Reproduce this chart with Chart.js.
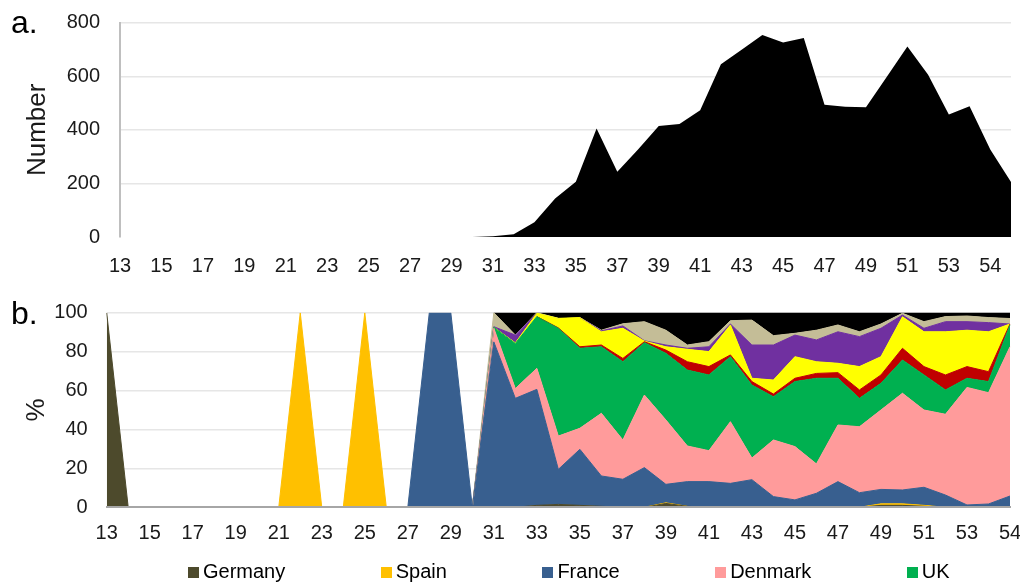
<!DOCTYPE html>
<html>
<head>
<meta charset="utf-8">
<title>Weekly counts and country shares</title>
<script src="https://cdn.jsdelivr.net/npm/chart.js@4.4.1/dist/chart.umd.min.js"></script>
<style>
  html, body { margin: 0; padding: 0; background: #fff; overflow: hidden; }
  #wrap { position: relative; width: 1020px; height: 582px; font-family: 'Liberation Sans', Arial, sans-serif; color: #000; }
  #panelA { position: absolute; left: 0; top: 0; }
  #panelB { position: absolute; left: 0; top: 290px; }
  .tag { position: absolute; left: 11px; font-size: 32px; line-height: 32px; }
  #legend { position: absolute; left: 188px; top: 561px; display: flex; font-size: 20px; line-height: 20px; white-space: nowrap; }
  #legend .item { display: inline-flex; align-items: baseline; margin-right: 95.5px; }
  #legend .box { display: inline-block; width: 11px; height: 11px; margin-right: 4px; }
</style>
</head>
<body>
<div id="wrap">
  <canvas id="panelA" width="1020" height="290"></canvas>
  <canvas id="panelB" width="1020" height="292"></canvas>
  <div class="tag" style="top:6px">a.</div>
  <div class="tag" style="top:297px">b.</div>
  <div id="legend"></div>
</div>
<script>
// Week categories (panel a runs one week further than panel b)
const weeksA = [13, 14, 15, 16, 17, 18, 19, 20, 21, 22, 23, 24, 25, 26, 27, 28, 29, 30,
                31, 32, 33, 34, 35, 36, 37, 38, 39, 40, 41, 42, 43, 44, 45, 46, 47, 48,
                49, 50, 51, 52, 53, 54, 55, 56];
const weeksB = [13, 14, 15, 16, 17, 18, 19, 20, 21, 22, 23, 24, 25, 26, 27, 28, 29, 30,
                31, 32, 33, 34, 35, 36, 37, 38, 39, 40, 41, 42, 43, 44, 45, 46, 47, 48,
                49, 50, 51, 52, 53, 54, 55];

// Labels shown under every second week
const xTickLabels = ['13', '15', '17', '19', '21', '23', '25', '27', '29', '31', '33',
                     '35', '37', '39', '41', '43', '45', '47', '49', '51', '53', '54'];

// Panel a: weekly number
const weeklyNumber = [0, 0, 0, 0, 0, 0, 0, 0, 0, 0, 0, 0, 0, 0, 0, 0, 0, 0,
                      3, 10, 55, 144, 206, 405, 244, 327, 414, 422, 473, 645, 699, 754,
                      726, 743, 494, 486, 484, 597, 711, 606, 457, 488, 327, 205];

// Panel b: share of each country per week (%)
const germany = [100, 0, 0, 0, 0, 0, 0, 0, 0, 0, 0, 0, 0, 0, 0, 0, 0, 0,
                 0, 0, 1, 1.5, 1, 0.5, 0, 0, 2, 0.5, 0, 0, 0, 0, 0, 0, 0, 0, 1, 1, 0.5, 0, 0, 0, 0];
const spain   = [0, 0, 0, 0, 0, 0, 0, 0, 0, 100, 0, 0, 100, 0, 0, 0, 0, 0,
                 0, 0, 0, 0, 0, 0, 0, 0, 0.3, 0, 0, 0, 0, 0, 0, 0, 0, 0, 0.8, 0.8, 0.5, 0, 0, 0, 0];
const france  = [0, 0, 0, 0, 0, 0, 0, 0, 0, 0, 0, 0, 0, 0, 0, 100, 100, 0,
                 85, 56, 59.6, 18, 28.8, 15.6, 14.4, 20.4, 9.5, 12.7, 13.2, 12.3, 14.2, 5.5,
                 3.8, 7.2, 13.2, 7.5, 7.4, 7.1, 9.3, 6.3, 1.2, 1.7, 5.8];
const denmark = [0, 0, 0, 0, 0, 0, 0, 0, 0, 0, 0, 0, 0, 0, 0, 0, 0, 0,
                 7, 5, 10.8, 17.1, 10.8, 32.2, 20.2, 37.3, 33.1, 18.3, 15.9, 31.7, 11.1, 29.1,
                 27.4, 15.1, 29.1, 33.9, 40.8, 49.7, 39.7, 41.5, 60.4, 57.2, 76.7];
const uk      = [0, 0, 0, 0, 0, 0, 0, 0, 0, 0, 0, 0, 0, 0, 0, 0, 0, 0,
                 0.5, 23.2, 26.6, 55.4, 41.1, 34.2, 40.2, 26.9, 34.2, 39, 38.9, 33.4, 37.5, 22.2,
                 33.4, 44, 24, 14.6, 13.7, 17.1, 18, 12.5, 4.7, 5.7, 11.2];
const other1  = [0, 0, 0, 0, 0, 0, 0, 0, 0, 0, 0, 0, 0, 0, 0, 0, 0, 0,
                 0, 0, 0, 0.2, 0.8, 0.9, 1.7, 0.5, 1.7, 4.3, 4.3, 0.9, 1.8, 1.4,
                 1.7, 2.5, 2.9, 4.3, 4.3, 6, 4.3, 7.7, 6, 5.1, 0.5];
const other2  = [0, 0, 0, 0, 0, 0, 0, 0, 0, 0, 0, 0, 0, 0, 0, 0, 0, 0,
                 0, 0.3, 1.7, 4.9, 15, 6.8, 15.5, 0.3, 1.7, 6.4, 7.7, 15.4, 1.7, 7.2,
                 11.1, 6, 4.8, 12, 9.4, 16.2, 17.9, 22.2, 18.7, 20.5, 0];
const other3  = [0, 0, 0, 0, 0, 0, 0, 0, 0, 0, 0, 0, 0, 0, 0, 0, 0, 0,
                 0.3, 4, 0, 0, 0, 0.5, 1.2, 0.2, 0.9, 0.5, 2.5, 0.5, 17.1, 18,
                 11.1, 11.2, 16.2, 15.4, 14.6, 0.9, 1.8, 5.2, 4.4, 4.7, 0];
const other4  = [0, 0, 0, 0, 0, 0, 0, 0, 0, 0, 0, 0, 0, 0, 0, 0, 0, 0,
                 7.2, 0, 0.3, 0, 0, 0.3, 1.1, 9.8, 7.6, 1.7, 2.6, 1.7, 12.8, 4.8,
                 0.9, 5, 3.5, 2.5, 2.2, 0.9, 3.4, 2.6, 2.9, 2.6, 2.8];
const other5  = [0, 0, 0, 0, 0, 0, 0, 0, 0, 0, 0, 0, 0, 0, 0, 0, 0, 0,
                 0, 11.5, 0, 2.9, 2.5, 9, 5.7, 4.6, 9, 16.6, 14.9, 4.1, 3.8, 11.8,
                 10.6, 9, 6.3, 9.8, 5.8, 0.3, 4.6, 2, 1.7, 2.5, 3];

const seriesNames  = ['Germany', 'Spain', 'France', 'Denmark', 'UK', 'Other 1', 'Other 2', 'Other 3', 'Other 4', 'Other 5'];
const seriesValues = [germany, spain, france, denmark, uk, other1, other2, other3, other4, other5];
const seriesColors = ['#4d4a2c', '#ffc000', '#385f8f', '#ff9b9b', '#00b050', '#c00000', '#ffff00', '#7030a0', '#c4bd97', '#000000'];
const legendNames  = ['Germany', 'Spain', 'France', 'Denmark', 'UK'];

Chart.defaults.font.family = "'Liberation Sans', Arial, sans-serif";
Chart.defaults.font.size = 20;
Chart.defaults.color = '#1a1a1a';
Chart.defaults.animation = false;

const tickText = (v, i) => (i % 2 === 0 && i / 2 < xTickLabels.length) ? xTickLabels[i / 2] : '';
const gridColor = ctx => (ctx.tick && ctx.tick.value === 0) ? 'rgba(0,0,0,0)' : '#e6e6e6';
const clear = 'rgba(0,0,0,0)';

// Panel a: total weekly number as a filled area
new Chart(document.getElementById('panelA'), {
  type: 'line',
  data: {
    labels: weeksA,
    datasets: [{
      label: 'Number',
      data: weeklyNumber,
      fill: 'origin',
      backgroundColor: '#000',
      borderColor: clear,
      borderWidth: 0,
      pointRadius: 0,
      tension: 0
    }]
  },
  options: {
    responsive: false,
    layout: { padding: { left: 0, right: 9, top: 22.7, bottom: 0 } },
    plugins: { legend: { display: false }, tooltip: { enabled: false } },
    scales: {
      x: {
        offset: false,
        grid: { display: false, drawTicks: false },
        border: { display: false },
        ticks: { autoSkip: false, maxRotation: 0, minRotation: 0, padding: 17, callback: tickText },
        afterFit(s) { s.height = 53; s.paddingLeft = 0; s.paddingRight = 0; }
      },
      y: {
        min: 0, max: 800,
        ticks: { stepSize: 200, padding: 20 },
        grid: { color: gridColor, lineWidth: 1.5, drawTicks: false },
        border: { display: true, color: '#bfbfbf', width: 2 },
        title: { display: true, text: 'Number', font: { size: 26 }, padding: { top: 22, bottom: 0 } },
        afterFit(s) { s.width = 120; s.paddingTop = 0; s.paddingBottom = 0; }
      }
    }
  }
});

// Panel b: country shares as stacked bands, each filled down to the band below.
// A second stack traces the same band tops with thin edges in the band colour,
// hidden where a band has no thickness, so neighbouring fills meet without seams.
const bandSets = seriesNames.map((name, i) => ({
  label: name,
  data: seriesValues[i],
  stack: 'bands',
  order: 1,
  fill: i === 0 ? 'origin' : '-1',
  backgroundColor: seriesColors[i],
  borderColor: clear,
  borderWidth: 0,
  pointRadius: 0,
  tension: 0
}));
const edgeSets = seriesNames.map((name, i) => ({
  label: name + ' edge',
  data: seriesValues[i],
  stack: 'edges',
  order: 0,
  fill: false,
  backgroundColor: seriesColors[i],
  borderColor: seriesColors[i],
  borderWidth: 1,
  segment: {
    borderColor: ctx => (seriesValues[i][ctx.p0DataIndex] < 0.05 && seriesValues[i][ctx.p1DataIndex] < 0.05)
      ? clear : seriesColors[i]
  },
  pointRadius: 0,
  tension: 0
}));

const chartB = new Chart(document.getElementById('panelB'), {
  type: 'line',
  data: { labels: weeksB, datasets: bandSets.concat(edgeSets) },
  options: {
    responsive: false,
    layout: { padding: { left: 0, right: 10, top: 22.7, bottom: 0 } },
    plugins: { legend: { display: false }, tooltip: { enabled: false } },
    scales: {
      x: {
        offset: false,
        grid: { display: false, drawTicks: false },
        border: { display: true, color: '#a6a6a6', width: 2, z: 1 },
        ticks: { autoSkip: false, maxRotation: 0, minRotation: 0, padding: 14, callback: tickText },
        afterFit(s) { s.height = 74.7; s.paddingLeft = 0; s.paddingRight = 0; }
      },
      y: {
        stacked: true,
        min: 0, max: 100,
        ticks: { stepSize: 20, padding: 19 },
        grid: { color: gridColor, lineWidth: 1.5, drawTicks: false },
        border: { display: false },
        title: { display: true, text: '%', font: { size: 26 }, padding: { top: 21, bottom: 0 } },
        afterFit(s) { s.width = 106.7; s.paddingTop = 0; s.paddingBottom = 0; }
      }
    }
  }
});

// Legend for panel b, built from the chart's own legend items
const legendEl = document.getElementById('legend');
Chart.defaults.plugins.legend.labels.generateLabels(chartB)
  .filter(item => legendNames.includes(item.text))
  .forEach(item => {
    const el = document.createElement('span');
    el.className = 'item';
    const box = document.createElement('span');
    box.className = 'box';
    box.style.background = item.fillStyle;
    el.appendChild(box);
    el.appendChild(document.createTextNode(item.text));
    legendEl.appendChild(el);
  });
</script>
</body>
</html>
